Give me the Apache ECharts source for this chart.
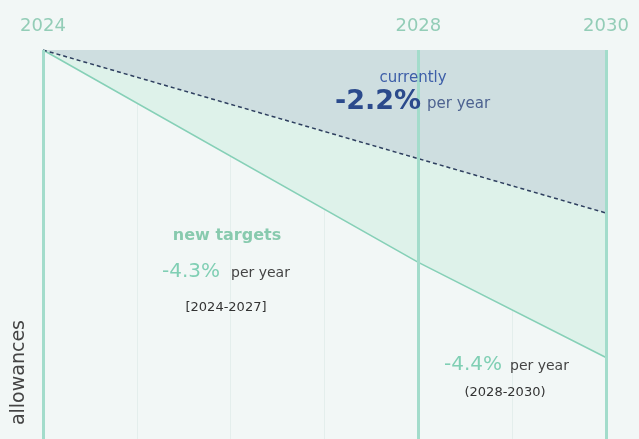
<!DOCTYPE html>
<html><head><meta charset="utf-8">
<script src="https://cdn.jsdelivr.net/npm/echarts@6/dist/echarts.min.js"></script>
<style>html,body{margin:0;padding:0;background:#f2f7f6}#c{width:639px;height:439px}</style>
</head><body><div id="c"></div>
<script>
// Data
const labelYears = [2024, 2028, 2030];
const currentPath = [[2024, 100], [2030, 86.8]];          // -2.2% per year
const newTargetPath = [[2024, 100], [2028, 82.8], [2030, 75.1]]; // -4.3% then -4.4%
const markYears = [2024, 2028, 2030];

const chart = echarts.init(document.getElementById('c'), null, {renderer: 'canvas'});
const FONT = '"DejaVu Sans", Verdana, sans-serif';
function txt(x, y, text, fill, font, align) {
  return {type: 'text', x: x, y: y, z: 100, style: {text: text, fill: fill, font: font + ' ' + FONT, align: align || 'left', verticalAlign: 'middle'}};
}
chart.setOption({
  animation: false,
  backgroundColor: '#f2f7f6',
  grid: {left: 43, right: 33, top: 50, bottom: 0},
  xAxis: {
    type: 'value', min: 2024, max: 2030, interval: 1, position: 'top',
    axisLine: {show: false}, axisTick: {show: false},
    axisLabel: {customValues: labelYears, formatter: v => String(v), color: '#93cdb7', fontSize: 18, margin: 15, fontFamily: FONT},
    splitLine: {show: true, lineStyle: {color: '#e4eeec', width: 1}}
  },
  yAxis: {
    type: 'value', min: 68.5, max: 100,
    axisLine: {show: false}, axisTick: {show: false}, axisLabel: {show: false}, splitLine: {show: false}
  },
  series: [
    {
      type: 'line', data: newTargetPath, symbol: 'none', z: 2,
      lineStyle: {color: '#86d0b7', width: 1.6},
      areaStyle: {color: '#def2ea', origin: 'end', opacity: 1},
      markLine: {
        silent: true, symbol: 'none', label: {show: false},
        lineStyle: {color: '#a3dccb', width: 3, type: 'solid'},
        data: markYears.map(y => ({xAxis: y}))
      }
    },
    {
      type: 'line', data: currentPath, symbol: 'none', z: 3,
      lineStyle: {color: '#2e3f5f', width: 1.5, type: [4, 3]},
      areaStyle: {color: '#cedee0', origin: 'end', opacity: 1}
    }
  ],
  graphic: [
    txt(413, 78, 'currently', '#3d5ea8', '15px', 'center'),
    txt(335, 102, '-2.2%', '#2b4a8c', 'bold 27px'),
    txt(427, 104, 'per year', '#4d6290', '15px'),
    txt(227, 236, 'new targets', '#88caae', 'bold 16px', 'center'),
    txt(162, 272, '-4.3%', '#80cfb4', '20px'),
    txt(231, 273, 'per year', '#444', '14px'),
    txt(226, 308, '[2024-2027]', '#333', '13px', 'center'),
    txt(444, 365, '-4.4%', '#80cfb4', '20px'),
    txt(510, 366, 'per year', '#444', '14px'),
    txt(505, 393, '(2028-2030)', '#333', '13px', 'center'),
    {type: 'text', x: 19, y: 320, rotation: Math.PI / 2, z: 100, style: {text: 'allowances', fill: '#444', font: '19px ' + FONT, align: 'right', verticalAlign: 'middle'}}
  ]
});
</script></body></html>
